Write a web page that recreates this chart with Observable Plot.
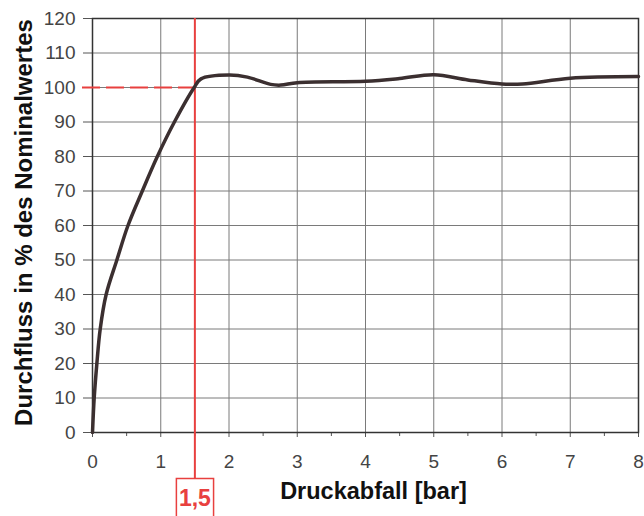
<!DOCTYPE html>
<html>
<head>
<meta charset="utf-8">
<script src="https://cdn.jsdelivr.net/npm/d3@7"></script>
<script src="https://cdn.jsdelivr.net/npm/@observablehq/plot@0.6"></script>
<style>
  html, body { margin: 0; padding: 0; background: #fff; }
  #chart { width: 644px; height: 516px; overflow: hidden; }
</style>
</head>
<body>
<div id="chart"></div>
<script>
// ---- data ----
const pressureDrop = [0, 0.025, 0.064, 0.113, 0.20, 0.357, 0.52, 0.73, 0.95, 1.20, 1.49, 1.59, 2.0, 2.27, 2.61, 2.76, 3.0, 4.0, 4.5, 5.0, 5.5, 6.0, 6.3, 7.0, 8.0];
const flowPercent  = [0, 10, 20, 30, 40, 50, 60, 70, 80, 90, 100, 102.5, 103.6, 103.0, 100.9, 100.7, 101.4, 101.8, 102.6, 103.7, 102.2, 101.0, 101.0, 102.7, 103.2];
const xTicks = [0, 1, 2, 3, 4, 5, 6, 7, 8];
const xMinorTicks = [0.5, 1.5, 2.5, 3.5, 4.5, 5.5, 6.5, 7.5];
const yTicks = [0, 10, 20, 30, 40, 50, 60, 70, 80, 90, 100, 110, 120];
const thresholdX = [1.5];
const thresholdLabel = ["1,5"];
const nominalY = [100];
const xLabel = "Druckabfall [bar]";
const yLabel = "Durchfluss in % des Nominalwertes";

const curve = pressureDrop.map((x, i) => ({x, y: flowPercent[i]}));
const red = "#e8403f";

const chart = Plot.plot({
  width: 644,
  height: 516,
  marginLeft: 92,
  marginRight: 6,
  marginTop: 18,
  marginBottom: 84,
  style: {fontFamily: "'Liberation Sans', Arial, sans-serif", fontSize: "19px", background: "white", color: "#444", overflow: "visible"},
  x: {domain: [0, 8]},
  y: {domain: [0, 120]},
  marks: [
    Plot.gridX(xTicks, {stroke: "#7a7a7a", strokeOpacity: 1, strokeWidth: 1}),
    Plot.gridY(yTicks, {stroke: "#7a7a7a", strokeOpacity: 1, strokeWidth: 1}),
    Plot.axisY(yTicks, {tickSize: 9, tickPadding: 8, label: null, stroke: "#555", fill: "#444"}),
    Plot.axisX(xTicks, {tickSize: 5, tickPadding: 17, label: null, stroke: "#555", fill: "#444"}),
    Plot.axisX(xMinorTicks, {tickSize: 4, text: null, label: null, stroke: "#555"}),
    Plot.frame({stroke: "#333", strokeWidth: 1.5}),
    Plot.ruleY(nominalY, {x1: 0, x2: thresholdX[0], stroke: red, strokeWidth: 2, strokeDasharray: "18,6", insetLeft: -10}),
    Plot.ruleX(thresholdX, {stroke: red, strokeWidth: 2, insetBottom: -53}),
    Plot.line(curve, {x: "x", y: "y", curve: "catmull-rom", stroke: "#3b2f30", strokeWidth: 3.5}),
    Plot.text(thresholdX, {x: d => d, frameAnchor: "bottom", dy: 73, text: (d, i) => thresholdLabel[i], fill: red, fontWeight: "bold", fontSize: 23}),
    Plot.text([xLabel], {frameAnchor: "bottom", dx: 8, dy: 66, text: d => d, fill: "#111", fontWeight: "bold", fontSize: 23.5}),
    Plot.text([yLabel], {frameAnchor: "left", textAnchor: "middle", dx: -68, dy: -3, rotate: -90, text: d => d, fill: "#111", fontWeight: "bold", fontSize: 24})
  ]
});
document.getElementById("chart").appendChild(chart);

// box around threshold label
const t = Array.from(chart.querySelectorAll("text")).find(el => el.textContent === thresholdLabel[0]);
if (t) {
  const b = t.getBBox();
  const r = d3.select(t.parentNode).insert("rect", ":first-child")
    .attr("x", b.x - 2.5).attr("y", b.y - 6)
    .attr("width", b.width + 5).attr("height", b.height + 40)
    .attr("fill", "white").attr("stroke", red).attr("stroke-width", 1.5);
  const tr = t.getAttribute("transform");
  if (tr) r.attr("transform", tr);
}
</script>
</body>
</html>
